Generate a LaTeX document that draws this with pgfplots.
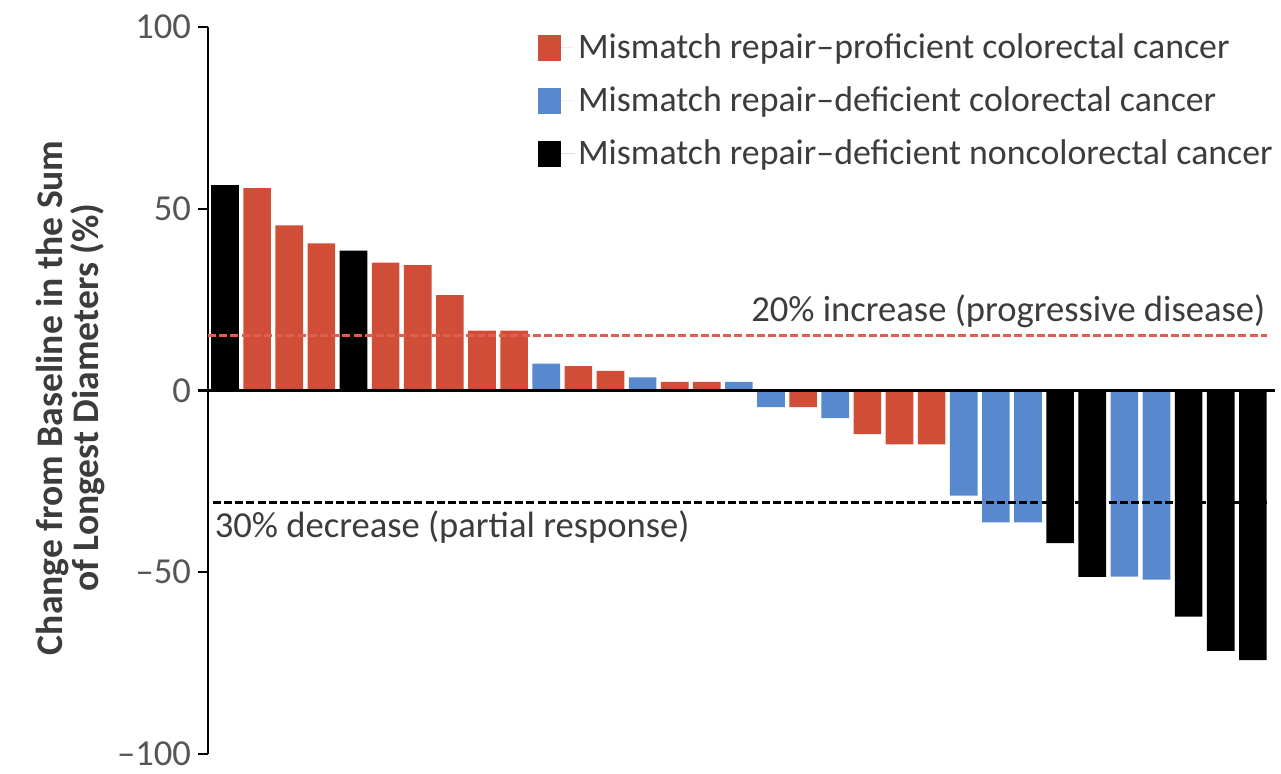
\documentclass[border=0pt]{standalone}
\usepackage{fontspec}
\setmainfont{Carlito}
\usepackage{pgfplots}
\pgfplotsset{compat=1.18}
\definecolor{mmrred}{RGB}{208,78,56}
\definecolor{mmrblue}{RGB}{88,136,206}
\definecolor{txtgray}{RGB}{60,60,60}
\definecolor{tickgray}{RGB}{85,85,85}
\definecolor{dashred}{RGB}{222,95,80}
\begin{document}
\begin{tikzpicture}
\useasboundingbox (-104pt,-10pt) rectangle (536.5pt,377pt);
\begin{axis}[
  scale only axis, width=533.5pt, height=363.5pt,
  anchor=south west, at={(0pt,0pt)},
  xmin=-0.53, xmax=32.69, ymin=-100, ymax=100,
  axis y line=left, axis x line=none,
  y axis line style={-, line width=1.2pt},
  ytick={-100,-50,0,50,100},
  yticklabels={–100,–50,0,50,100},
  major tick length=5pt, tick align=outside,
  ytick style={line width=1.2pt, black},
  yticklabel style={font=\fontsize{18.3}{21}\selectfont, text=tickgray},
  ylabel={Change from Baseline in the Sum\\of Longest Diameters (\%)},
  ylabel style={align=center, font=\bfseries\fontsize{18.8}{18}\selectfont, text=txtgray,
    at={(axis description cs:-0.129,0.49)}, anchor=center},
  clip=false,
  legend style={at={(rel axis cs:0.309,0.997)}, anchor=north west, draw=none, fill=none,
    font=\fontsize{17.9}{21}\selectfont, text=txtgray, row sep=8.6pt, inner sep=0pt},
  legend cell align=left,
]
\addplot[ybar, bar width=0.86, bar shift=0pt, fill=mmrred, draw=none,
  legend image code/.code={\fill[mmrred] (0pt,-6.5pt) rectangle (11.5pt,6.5pt); \path (0pt,0pt) -- (18pt,0pt);}]
  coordinates {(1,55.7) (2,45.4) (3,40.5) (5,35.2) (6,34.5) (7,26.2) (8,16.5) (9,16.5)
  (11,6.7) (12,5.4) (14,2.4) (15,2.4) (18,-4.6) (20,-12) (21,-14.8) (22,-14.8)};
\addlegendentry{Mismatch repair–proficient colorectal cancer}
\addplot[ybar, bar width=0.86, bar shift=0pt, fill=mmrblue, draw=none,
  legend image code/.code={\fill[mmrblue] (0pt,-6.5pt) rectangle (11.5pt,6.5pt); \path (0pt,0pt) -- (18pt,0pt);}]
  coordinates {(10,7.4) (13,3.6) (16,2.4) (17,-4.6) (19,-7.6) (23,-28.9) (24,-36.3) (25,-36.3)
  (28,-51.2) (29,-52)};
\addlegendentry{Mismatch repair–deficient colorectal cancer}
\addplot[ybar, bar width=0.86, bar shift=0pt, fill=black, draw=none,
  legend image code/.code={\fill[black] (0pt,-6.5pt) rectangle (11.5pt,6.5pt); \path (0pt,0pt) -- (18pt,0pt);}]
  coordinates {(0,56.5) (4,38.5) (26,-42) (27,-51.3) (30,-62.2) (31,-71.6) (32,-74.2)};
\addlegendentry{Mismatch repair–deficient noncolorectal cancer}
% reference lines
\addplot[forget plot, sharp plot, no marks, dashred, line width=1.6pt, dash pattern=on 4pt off 1.6pt]
  coordinates {(-0.53,15.1) (32.45,15.1)};
\addplot[forget plot, sharp plot, no marks, black, line width=1.6pt, dash pattern=on 4pt off 1.6pt]
  coordinates {(-0.38,-30.8) (32.45,-30.8)};
\addplot[forget plot, sharp plot, no marks, black, line width=1.5pt]
  coordinates {(-0.53,0) (32.69,0)};
\node[anchor=east, font=\fontsize{18.3}{21}\selectfont, text=txtgray, inner sep=0pt]
  at (axis cs:32.4,21.8) {20\% increase (progressive disease)};
\node[anchor=west, font=\fontsize{18.3}{21}\selectfont, text=txtgray, inner sep=0pt]
  at (axis cs:-0.33,-37.6) {30\% decrease (partial response)};
\end{axis}
\end{tikzpicture}
\end{document}
